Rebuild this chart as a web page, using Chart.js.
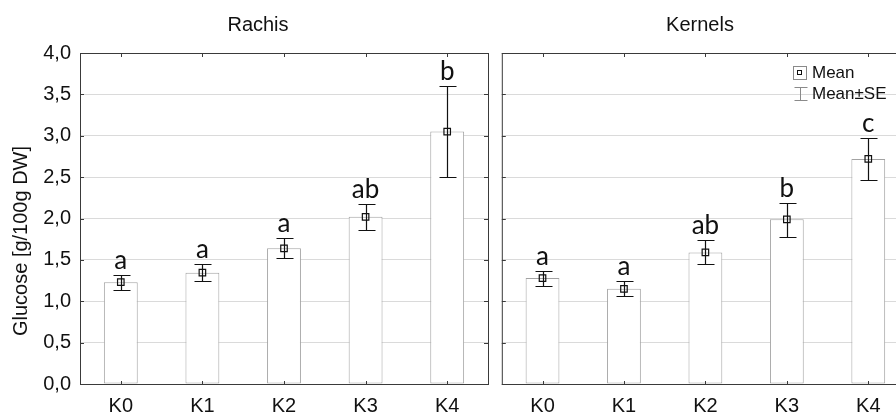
<!DOCTYPE html>
<html>
<head>
<meta charset="utf-8">
<script src="https://cdn.jsdelivr.net/npm/chart.js@4.4.1/dist/chart.umd.min.js"></script>
<style>
  html, body { margin: 0; padding: 0; background: #fff; overflow: hidden; }
  #wrap { position: relative; width: 896px; height: 416px; overflow: hidden; }
  canvas { position: absolute; top: 0; }
  #rachis { left: 0; }
  #kernels { left: 496px; }
</style>
</head>
<body>
<div id="wrap">
  <canvas id="rachis" width="496" height="416"></canvas>
  <canvas id="kernels" width="420" height="416"></canvas>
</div>
<script>
// groups on the x axis
const groups = ['K0', 'K1', 'K2', 'K3', 'K4'];

// Rachis: mean, mean-SE, mean+SE, letters
const rachisMean = [1.23, 1.345, 1.64, 2.02, 3.05];
const rachisLow = [1.13, 1.24, 1.52, 1.86, 2.50];
const rachisHigh = [1.32, 1.45, 1.76, 2.17, 3.60];
const rachisLetters = ['a', 'a', 'a', 'ab', 'b'];

// Kernels
const kernelsMean = [1.28, 1.15, 1.59, 1.99, 2.72];
const kernelsLow = [1.19, 1.06, 1.445, 1.78, 2.47];
const kernelsHigh = [1.365, 1.24, 1.74, 2.19, 2.97];
const kernelsLetters = ['a', 'a', 'ab', 'b', 'c'];

const yMin = 0, yMax = 4, yStep = 0.5;
const yTitle = 'Glucose [g/100g DW]';
const legendLabels = ['Mean', 'Mean\u00b1SE'];

const sans = '"Liberation Sans", Arial, sans-serif';
const frameColor = '#3a3a3a';

// frame, inner ticks, error bars, letters, titles
function panelPlugin(p) {
  return {
    id: 'panel',
    afterDatasetDraw(chart, args) {
      if (args.meta.type !== 'bar') return;
      const ctx = chart.ctx, x = chart.scales.x, y = chart.scales.y;
      ctx.save();
      ctx.strokeStyle = '#111';
      ctx.lineWidth = 1.2;
      p.high.forEach((h, i) => {
        const px = Math.round(x.getPixelForValue(i)) + 0.5;
        const top = Math.round(y.getPixelForValue(h)) + 0.5;
        const bot = Math.round(y.getPixelForValue(p.low[i])) + 0.5;
        ctx.beginPath();
        ctx.moveTo(px, top); ctx.lineTo(px, bot);
        ctx.moveTo(px - 8, top); ctx.lineTo(px + 9, top);
        ctx.moveTo(px - 8, bot); ctx.lineTo(px + 9, bot);
        ctx.stroke();
      });
      ctx.restore();
    },
    afterDraw(chart) {
      const ctx = chart.ctx, a = chart.chartArea, x = chart.scales.x, y = chart.scales.y;
      ctx.save();
      // frame
      ctx.strokeStyle = frameColor;
      ctx.lineWidth = 1;
      ctx.strokeRect(a.left + 0.5, a.top + 0.5, a.right - a.left, a.bottom - a.top);
      ctx.beginPath();
      y.ticks.forEach(t => {
        const py = Math.round(y.getPixelForValue(t.value)) + 0.5;
        ctx.moveTo(a.left, py); ctx.lineTo(a.left + 4, py);
        ctx.moveTo(a.right, py); ctx.lineTo(a.right - 4, py);
      });
      groups.forEach((g, i) => {
        const px = Math.round(x.getPixelForValue(i)) + 0.5;
        ctx.moveTo(px, a.top); ctx.lineTo(px, a.top + 4);
        ctx.moveTo(px, a.bottom); ctx.lineTo(px, a.bottom - 3);
      });
      ctx.stroke();

      // significance letters
      ctx.fillStyle = '#111';
      ctx.font = '26px Lato, "Open Sans", sans-serif';
      ctx.textAlign = 'center';
      ctx.textBaseline = 'alphabetic';
      p.letters.forEach((l, i) => {
        ctx.fillText(l, x.getPixelForValue(i), y.getPixelForValue(p.high[i]) - 6);
      });

      // panel title
      ctx.font = '20px ' + sans;
      ctx.fillStyle = '#111';
      ctx.fillText(p.title, p.titleX, 31);

      // y axis title
      if (p.yTitle) {
        ctx.save();
        ctx.translate(21, 241);
        ctx.rotate(-Math.PI / 2);
        ctx.textBaseline = 'middle';
        ctx.fillText(yTitle, 0, 0);
        ctx.restore();
      }

      // legend
      if (p.legend) {
        const lx = p.legend.x, ly = p.legend.y;
        ctx.strokeStyle = '#8a8a8a';
        ctx.strokeRect(lx + 0.5, ly + 0.5, 13, 13);
        ctx.strokeStyle = '#111';
        ctx.strokeRect(lx + 4.5, ly + 4.5, 4, 4);
        ctx.strokeStyle = '#8a8a8a';
        ctx.beginPath();
        const cx = lx + 7.5;
        ctx.moveTo(cx, ly + 21); ctx.lineTo(cx, ly + 35);
        ctx.moveTo(cx - 6, ly + 21.5); ctx.lineTo(cx + 7, ly + 21.5);
        ctx.moveTo(cx - 6, ly + 34.5); ctx.lineTo(cx + 7, ly + 34.5);
        ctx.stroke();
        ctx.fillStyle = '#111';
        ctx.font = '17px ' + sans;
        ctx.textAlign = 'left';
        ctx.textBaseline = 'middle';
        ctx.fillText(legendLabels[0], lx + 19, ly + 7);
        ctx.fillText(legendLabels[1], lx + 19, ly + 28);
      }
      ctx.restore();
    }
  };
}

function makePanel(id, p) {
  return new Chart(document.getElementById(id), {
    data: {
      labels: groups,
      datasets: [
        {
          type: 'bar',
          data: p.mean,
          backgroundColor: '#ffffff',
          borderColor: '#a3a3a3',
          borderWidth: 1,
          borderSkipped: false,
          barPercentage: 0.415,
          categoryPercentage: 1,
          order: 1
        },
        {
          type: 'line',
          data: p.mean,
          showLine: false,
          pointStyle: 'rect',
          pointRadius: 4.6,
          pointBorderWidth: 1.2,
          pointBorderColor: '#111',
          pointBackgroundColor: 'rgba(255,255,255,0)',
          order: 0
        }
      ]
    },
    options: {
      responsive: false,
      animation: false,
      layout: { padding: p.padding },
      plugins: { legend: { display: false }, tooltip: { enabled: false } },
      scales: {
        x: {
          grid: { display: false },
          border: { display: false },
          ticks: { color: '#111', font: { family: sans, size: 20 }, padding: 2 },
          afterFit(s) { s.height = 32; }
        },
        y: {
          min: yMin, max: yMax,
          grid: { color: '#dadada', drawTicks: false },
          border: { display: false },
          ticks: {
            display: p.yLabels,
            stepSize: yStep,
            color: '#111',
            font: { family: sans, size: 20 },
            padding: 9,
            callback: v => v.toFixed(1).replace('.', ',')
          },
          afterFit(s) { s.width = p.yWidth; }
        }
      }
    },
    plugins: [panelPlugin(p)]
  });
}

makePanel('rachis', {
  title: 'Rachis', titleX: 258, yTitle: true, yLabels: true, yWidth: 80,
  padding: { top: 53, right: 8, bottom: 0, left: 0 },
  mean: rachisMean, low: rachisLow, high: rachisHigh, letters: rachisLetters
});

makePanel('kernels', {
  title: 'Kernels', titleX: 204, yTitle: false, yLabels: false, yWidth: 0,
  padding: { top: 53, right: 7, bottom: 0, left: 5 },
  legend: { x: 297, y: 66 },
  mean: kernelsMean, low: kernelsLow, high: kernelsHigh, letters: kernelsLetters
});
</script>
</body>
</html>
